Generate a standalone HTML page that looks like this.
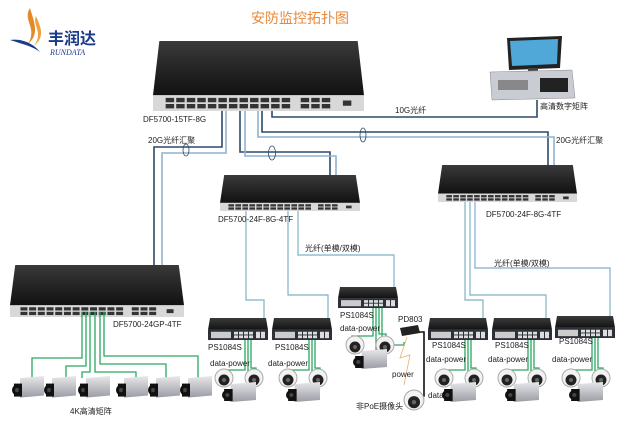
<!DOCTYPE html>
<html><head><meta charset="utf-8"><style>
html,body{margin:0;padding:0;background:#fff;}
svg{display:block;}
text{font-family:"Liberation Sans","Noto Sans CJK SC",sans-serif;font-size:8px;fill:#222;}
</style></head><body>
<svg width="630" height="426" viewBox="0 0 630 426" xmlns="http://www.w3.org/2000/svg">
<defs>
<linearGradient id="top" x1="0" y1="0" x2="0" y2="1"><stop offset="0" stop-color="#3a3a3a"/><stop offset="1" stop-color="#111"/></linearGradient>
<linearGradient id="cam" x1="0" y1="0" x2="0" y2="1"><stop offset="0" stop-color="#e8e8ea"/><stop offset="1" stop-color="#9a9ca4"/></linearGradient>
<symbol id="sw" viewBox="0 0 100 40" preserveAspectRatio="none">
<polygon points="3,0 97,0 100,31 0,31" fill="url(#top)"/>
<rect x="0" y="31" width="100" height="9" fill="#d8d8d8"/>
<g fill="#333"><rect x="6" y="32.5" width="4" height="2.5"/><rect x="11" y="32.5" width="4" height="2.5"/><rect x="16" y="32.5" width="4" height="2.5"/><rect x="21" y="32.5" width="4" height="2.5"/><rect x="26" y="32.5" width="4" height="2.5"/><rect x="31" y="32.5" width="4" height="2.5"/><rect x="36" y="32.5" width="4" height="2.5"/><rect x="41" y="32.5" width="4" height="2.5"/><rect x="46" y="32.5" width="4" height="2.5"/><rect x="51" y="32.5" width="4" height="2.5"/><rect x="56" y="32.5" width="4" height="2.5"/><rect x="61" y="32.5" width="4" height="2.5"/><rect x="70" y="32.5" width="4" height="2.5"/><rect x="75" y="32.5" width="4" height="2.5"/><rect x="80" y="32.5" width="4" height="2.5"/>
<rect x="6" y="36" width="4" height="2.5"/><rect x="11" y="36" width="4" height="2.5"/><rect x="16" y="36" width="4" height="2.5"/><rect x="21" y="36" width="4" height="2.5"/><rect x="26" y="36" width="4" height="2.5"/><rect x="31" y="36" width="4" height="2.5"/><rect x="36" y="36" width="4" height="2.5"/><rect x="41" y="36" width="4" height="2.5"/><rect x="46" y="36" width="4" height="2.5"/><rect x="51" y="36" width="4" height="2.5"/><rect x="56" y="36" width="4" height="2.5"/><rect x="61" y="36" width="4" height="2.5"/><rect x="70" y="36" width="4" height="2.5"/><rect x="75" y="36" width="4" height="2.5"/><rect x="80" y="36" width="4" height="2.5"/><rect x="90" y="34" width="4" height="3"/></g>
</symbol>
<symbol id="ps" viewBox="0 0 60 24" preserveAspectRatio="none">
<polygon points="2,0 58,0 60,13 0,13" fill="url(#top)"/>
<rect x="0" y="13" width="60" height="11" fill="#2c3038"/>
<rect x="3" y="15" width="20" height="7" fill="#ccc"/>
<g fill="#ddd"><rect x="26" y="15" width="4" height="3"/><rect x="31" y="15" width="4" height="3"/><rect x="36" y="15" width="4" height="3"/><rect x="41" y="15" width="4" height="3"/><rect x="26" y="19" width="4" height="3"/><rect x="31" y="19" width="4" height="3"/><rect x="36" y="19" width="4" height="3"/><rect x="41" y="19" width="4" height="3"/><rect x="48" y="15" width="4" height="7"/><rect x="53" y="15" width="4" height="7"/></g>
</symbol>
<symbol id="box" viewBox="0 0 32 24" preserveAspectRatio="none">
<polygon points="8,2 32,0 32,18 8,20" fill="url(#cam)"/>
<rect x="2" y="7" width="8" height="12" fill="#111"/>
<circle cx="5" cy="13" r="5" fill="#111"/><circle cx="5" cy="13" r="2" fill="#444"/>
</symbol>
<symbol id="dome" viewBox="0 0 20 20">
<circle cx="10" cy="10" r="9" fill="#f2f2f2" stroke="#aaa"/>
<circle cx="10" cy="12" r="5.5" fill="#222"/><circle cx="10" cy="12" r="2" fill="#666"/>
</symbol>
<g id="cluster">
<use href="#dome" x="4" y="0" width="20" height="20"/>
<use href="#dome" x="34" y="0" width="20" height="20"/>
<use href="#box" x="12" y="14" width="34" height="24"/>
</g>
</defs>

<!-- logo -->
<path d="M30 8 C22 20 38 28 28 44 C40 34 34 22 30 8Z" fill="#e08a2a"/>
<path d="M36 16 C32 26 44 32 34 46 C46 36 40 26 36 16Z" fill="#f0a040"/>
<path d="M10 40 C22 38 34 44 40 52 C32 46 22 44 10 40Z" fill="#1a3a8a"/>
<text x="48" y="44" style="font-size:16px;font-weight:bold;fill:#1a3a8a">丰润达</text>
<text x="50" y="55" style="font-size:8px;font-style:italic;font-family:'Liberation Serif',serif;fill:#1a3a8a">RUNDATA</text>
<text x="300" y="23" text-anchor="middle" style="font-size:14px;fill:#e8893a">安防监控拓扑图</text>

<!-- fiber lines -->
<g fill="none" stroke-width="1.6">
<path d="M272 110 V117 H537 V100" stroke="#2f4a6a"/>
<path d="M262 110 V132 H548 V166" stroke="#2f4a6a"/>
<path d="M258 110 V137 H554 V166" stroke="#8fb3cc"/>
<path d="M222 110 V147 H154 V266" stroke="#2f4a6a"/>
<path d="M226 110 V153 H162 V266" stroke="#8fb3cc"/>
<path d="M240 110 V152 H330 V176" stroke="#2f4a6a"/>
<path d="M245 110 V156 H336 V176" stroke="#8fb3cc"/>
</g>
<g fill="none" stroke="#2f4a6a" stroke-width="0.8">
<ellipse cx="363" cy="135" rx="3" ry="7"/>
<ellipse cx="186" cy="150" rx="3" ry="6"/>
<ellipse cx="272" cy="153" rx="3.5" ry="7"/>
</g>
<!-- light blue access fibers -->
<g fill="none" stroke="#7fb1c8" stroke-width="1.2">
<path d="M246 210 V300 H264 V319"/>
<path d="M288 210 V295 H328 V319"/>
<path d="M298 210 V255 H394 V290"/>
<path d="M465 202 V300 H483 V319"/>
<path d="M470 202 V295 H546 V319"/>
<path d="M475 202 V268 H610 V319"/>
</g>

<!-- main switch -->
<use href="#sw" x="153" y="41" width="211" height="70"/>
<text x="143" y="122">DF5700-15TF-8G</text>
<text x="395" y="113">10G光纤</text>
<text x="148" y="143">20G光纤汇聚</text>
<text x="556" y="143">20G光纤汇聚</text>

<!-- PC -->
<polygon points="507,38 562,36 560,68 509,70" fill="#222"/>
<polygon points="510,41 558,39 557,64 512,66" fill="#4fa8d8"/>
<rect x="528" y="68" width="10" height="5" fill="#444"/>
<polygon points="490,72 572,70 575,98 492,100" fill="#c9ccd2" stroke="#888" stroke-width="0.5"/>
<rect x="540" y="78" width="28" height="14" fill="#222"/>
<rect x="498" y="80" width="30" height="10" fill="#888"/>
<text x="540" y="109">高清数字矩阵</text>

<!-- mid switches -->
<use href="#sw" x="220" y="175" width="140" height="36"/>
<text x="218" y="222">DF5700-24F-8G-4TF</text>
<use href="#sw" x="438" y="165" width="139" height="37"/>
<text x="486" y="217">DF5700-24F-8G-4TF</text>
<text x="305" y="251">光纤(单模/双模)</text>
<text x="494" y="266">光纤(单模/双模)</text>

<!-- big left switch -->
<use href="#sw" x="10" y="265" width="174" height="52"/>
<text x="113" y="327">DF5700-24GP-4TF</text>
<g fill="none" stroke="#2aa860" stroke-width="1.3">
<path d="M82 312 V358 H32 V378"/>
<path d="M86 312 V366 H66 V378"/>
<path d="M90 312 V372 H82 V378"/>
<path d="M95 312 V372 H136 V378"/>
<path d="M100 312 V364 H166 V378"/>
<path d="M104 312 V356 H198 V378"/>
</g>
<use href="#box" x="12" y="376" width="32" height="26"/>
<use href="#box" x="44" y="376" width="32" height="26"/>
<use href="#box" x="78" y="376" width="32" height="26"/>
<use href="#box" x="116" y="376" width="32" height="26"/>
<use href="#box" x="148" y="376" width="32" height="26"/>
<use href="#box" x="180" y="376" width="32" height="26"/>
<text x="70" y="414">4K高清矩阵</text>

<!-- PS units & cameras -->
<g fill="none" stroke="#2aa860" stroke-width="1.3">
<path d="M245 336 V370 H222 V376 M248 336 V378 M251 336 V368 H256 V376"/>
<path d="M309 336 V370 H286 V376 M312 336 V378 M315 336 V368 H320 V376"/>
<path d="M373 305 V336 H352 V342 M376 305 V352 M379 305 V334 H386 V342 M382 305 V345 H404 V342"/>
<path d="M465 336 V370 H442 V376 M468 336 V378 M471 336 V368 H476 V376"/>
<path d="M528 336 V370 H505 V376 M531 336 V378 M534 336 V368 H539 V376"/>
<path d="M592 336 V370 H569 V376 M595 336 V378 M598 336 V368 H603 V376"/>
</g>
<use href="#ps" x="208" y="318" width="60" height="22"/>
<use href="#ps" x="272" y="318" width="60" height="22"/>
<use href="#ps" x="338" y="287" width="60" height="21"/>
<use href="#ps" x="428" y="318" width="60" height="22"/>
<use href="#ps" x="492" y="318" width="60" height="22"/>
<use href="#ps" x="555" y="316" width="60" height="22"/>
<use href="#cluster" x="210" y="368"/>
<use href="#cluster" x="274" y="368"/>
<use href="#cluster" x="341" y="335"/>
<use href="#cluster" x="430" y="368"/>
<use href="#cluster" x="493" y="368"/>
<use href="#cluster" x="557" y="368"/>
<text x="208" y="350">PS1084S</text>
<text x="275" y="350">PS1084S</text>
<text x="340" y="318">PS1084S</text>
<text x="432" y="348">PS1084S</text>
<text x="495" y="348">PS1084S</text>
<text x="559" y="344">PS1084S</text>
<text x="210" y="366">data-power</text>
<text x="268" y="366">data-power</text>
<text x="340" y="331">data-power</text>
<text x="426" y="362">data-power</text>
<text x="488" y="362">data-power</text>
<text x="552" y="362">data-power</text>

<!-- PD803 -->
<text x="398" y="322">PD803</text>
<polygon points="400,328 418,325 420,333 402,336" fill="#222"/>
<path d="M419 332 H424 V396 H418" fill="none" stroke="#111" stroke-width="1.6"/>
<path d="M407 337 L400 358 L410 355 L404 385" fill="none" stroke="#e8b070" stroke-width="0.8"/>
<text x="392" y="377">power</text>
<text x="428" y="398">data</text>
<use href="#dome" x="403" y="389" width="22" height="22"/>
<text x="356" y="409">非PoE摄像头</text>
</svg>
</body></html>
